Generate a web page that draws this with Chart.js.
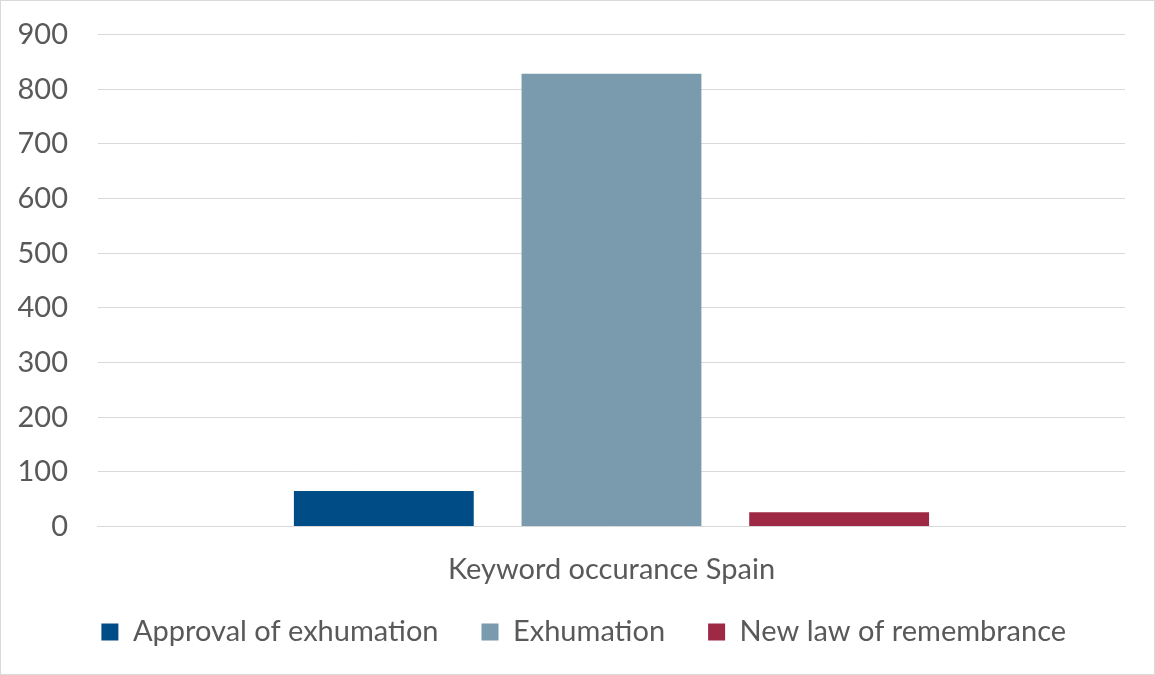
<!DOCTYPE html>
<html>
<head>
<meta charset="utf-8">
<script src="https://cdn.jsdelivr.net/npm/chart.js@4/dist/chart.umd.min.js"></script>
<style>
  html, body { margin: 0; padding: 0; background: #ffffff; }
  #wrap { position: relative; width: 1153px; height: 673px; border: 1px solid #d9d9d9; }
  canvas { display: block; }
</style>
</head>
<body>
<div id="wrap"><canvas id="chart" width="1153" height="673"></canvas></div>
<script>
// Category shown on the horizontal axis
const categories = ['Keyword occurance Spain'];

// One series per keyword
const seriesNames = ['Approval of exhumation', 'Exhumation', 'New law of remembrance'];
const approvalValues = [65];
const exhumationValues = [828];
const newLawValues = [26];

const seriesColors = ['#004c87', '#7a9aae', '#9e2944'];
const yTicks = [0, 100, 200, 300, 400, 500, 600, 700, 800, 900];

const fontFamily = 'Lato, "Open Sans", sans-serif';
const fontSize = 29;
const textColor = '#595959';
const xLabelPadding = 26;

// Nudge the legend so it sits closer to the category label and centred under the plot
const legendNudge = {
  id: 'legendNudge',
  afterLayout(chart) {
    const lg = chart.legend;
    if (!lg) return;
    const dy = -12.8, dx = 27.5;
    lg.top += dy; lg.bottom += dy;
    lg.left += dx; lg.right += dx;
  }
};

new Chart(document.getElementById('chart'), {
  type: 'bar',
  data: {
    labels: categories,
    datasets: [
      { label: seriesNames[0], data: approvalValues, backgroundColor: seriesColors[0] },
      { label: seriesNames[1], data: exhumationValues, backgroundColor: seriesColors[1] },
      { label: seriesNames[2], data: newLawValues, backgroundColor: seriesColors[2] }
    ]
  },
  plugins: [legendNudge],
  options: {
    responsive: false,
    animation: false,
    devicePixelRatio: 1,
    categoryPercentage: 0.665,
    barPercentage: 0.79,
    layout: { padding: { top: 33.5, right: 29, bottom: 4.7, left: -13.5 } },
    scales: {
      x: {
        grid: { display: false, drawTicks: false },
        border: { display: true, color: '#d9d9d9', width: 1 },
        ticks: { color: textColor, font: { family: fontFamily, size: fontSize }, padding: xLabelPadding },
        // axis band is exactly the label gap plus one line of text
        afterFit: (scale) => { scale.height = xLabelPadding + fontSize * 1.2; }
      },
      y: {
        min: 0,
        max: 900,
        afterBuildTicks: (axis) => { axis.ticks = yTicks.map(v => ({ value: v })); },
        afterFit: (scale) => { scale.paddingTop = 0; scale.paddingBottom = 0; },
        grid: { color: '#d9d9d9', lineWidth: 1, drawTicks: false },
        border: { display: false },
        ticks: { color: textColor, font: { family: fontFamily, size: fontSize }, padding: 30 }
      }
    },
    plugins: {
      legend: {
        position: 'bottom',
        labels: {
          color: textColor,
          font: { family: fontFamily, size: fontSize },
          boxWidth: 17,
          boxHeight: 17,
          padding: 43
        }
      },
      tooltip: { enabled: false }
    }
  }
});
</script>
</body>
</html>
